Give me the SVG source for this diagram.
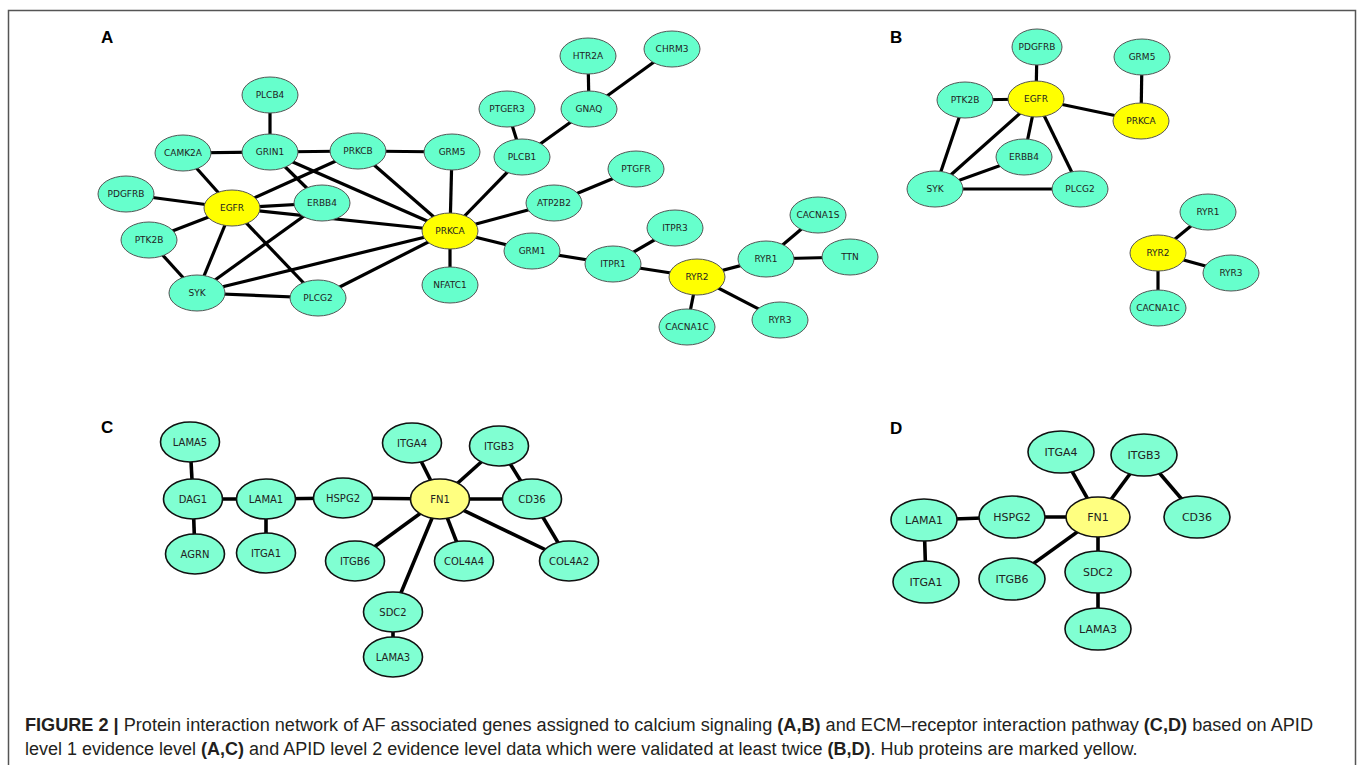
<svg xmlns="http://www.w3.org/2000/svg" width="1360" height="765" viewBox="0 0 1360 765">
<style>
.e{stroke:#000;stroke-width:3.2;stroke-linecap:butt;fill:none}
.ecd{stroke:#000;stroke-width:3.6;fill:none}
.na ellipse{fill:#66ffcc;stroke:#555;stroke-width:1}
.na.h ellipse{fill:#ffff00}
.nc ellipse{fill:#80ffd2;stroke:#111;stroke-width:1.6}
.nc.h ellipse{fill:#ffff80}
text.l{font-family:"DejaVu Sans",sans-serif;fill:#222;text-anchor:middle;dominant-baseline:central}
.na text{font-size:9px}
.nc text{font-size:10px}
.nd text{font-size:11px}
.pl{font-family:"Liberation Sans",Arial,sans-serif;font-weight:bold;font-size:17px;fill:#000}
.cap{font-family:"Liberation Sans",Arial,sans-serif;font-size:18px;fill:#231f20}
</style>
<rect width="1360" height="765" fill="#fff"/>
<path d="M8.5,775 V10.5 H1355.5 V775" fill="none" stroke="#555" stroke-width="1.5"/>
<text class="pl" x="101" y="43">A</text>
<text class="pl" x="890" y="43">B</text>
<text class="pl" x="101" y="433">C</text>
<text class="pl" x="890" y="434">D</text>

<g id="edges">
<!-- A -->
<line class="e" x1="270" y1="95" x2="270" y2="152"/>
<line class="e" x1="183" y1="153" x2="270" y2="152"/>
<line class="e" x1="270" y1="152" x2="358" y2="151"/>
<line class="e" x1="358" y1="151" x2="452" y2="152"/>
<line class="e" x1="183" y1="153" x2="232" y2="208"/>
<line class="e" x1="126" y1="194" x2="232" y2="208"/>
<line class="e" x1="270" y1="152" x2="322" y2="203"/>
<line class="e" x1="270" y1="152" x2="450" y2="231"/>
<line class="e" x1="358" y1="151" x2="232" y2="208"/>
<line class="e" x1="358" y1="151" x2="450" y2="231"/>
<line class="e" x1="452" y1="152" x2="450" y2="231"/>
<line class="e" x1="232" y1="208" x2="322" y2="203"/>
<line class="e" x1="232" y1="208" x2="450" y2="231"/>
<line class="e" x1="149" y1="240" x2="232" y2="208"/>
<line class="e" x1="149" y1="240" x2="197" y2="293"/>
<line class="e" x1="232" y1="208" x2="197" y2="293"/>
<line class="e" x1="232" y1="208" x2="318" y2="298"/>
<line class="e" x1="197" y1="293" x2="322" y2="203"/>
<line class="e" x1="197" y1="293" x2="450" y2="231"/>
<line class="e" x1="197" y1="293" x2="318" y2="298"/>
<line class="e" x1="318" y1="298" x2="450" y2="231"/>
<line class="e" x1="450" y1="231" x2="450" y2="285"/>
<line class="e" x1="450" y1="231" x2="522" y2="157"/>
<line class="e" x1="450" y1="231" x2="554" y2="203"/>
<line class="e" x1="450" y1="231" x2="532" y2="251"/>
<line class="e" x1="522" y1="157" x2="507" y2="109"/>
<line class="e" x1="522" y1="157" x2="589" y2="109"/>
<line class="e" x1="589" y1="109" x2="588" y2="56"/>
<line class="e" x1="589" y1="109" x2="672" y2="49"/>
<line class="e" x1="554" y1="203" x2="636" y2="169"/>
<line class="e" x1="532" y1="251" x2="613" y2="264"/>
<line class="e" x1="613" y1="264" x2="675" y2="228"/>
<line class="e" x1="613" y1="264" x2="697" y2="277"/>
<line class="e" x1="697" y1="277" x2="766" y2="259"/>
<line class="e" x1="766" y1="259" x2="818" y2="215"/>
<line class="e" x1="766" y1="259" x2="850" y2="257"/>
<line class="e" x1="697" y1="277" x2="687" y2="327"/>
<line class="e" x1="697" y1="277" x2="780" y2="320"/>
<!-- B -->
<line class="e" x1="1037" y1="47" x2="1036" y2="99"/>
<line class="e" x1="965" y1="100" x2="1036" y2="99"/>
<line class="e" x1="1036" y1="99" x2="1141" y2="121"/>
<line class="e" x1="1142" y1="57" x2="1141" y2="121"/>
<line class="e" x1="965" y1="100" x2="935" y2="189"/>
<line class="e" x1="1036" y1="99" x2="935" y2="189"/>
<line class="e" x1="1036" y1="99" x2="1024" y2="157"/>
<line class="e" x1="1036" y1="99" x2="1080" y2="189"/>
<line class="e" x1="1024" y1="157" x2="935" y2="189"/>
<line class="e" x1="935" y1="189" x2="1080" y2="189"/>
<line class="e" x1="1158" y1="253" x2="1208" y2="212"/>
<line class="e" x1="1158" y1="253" x2="1231" y2="273"/>
<line class="e" x1="1158" y1="253" x2="1158" y2="308"/>
<!-- C -->
<line class="ecd" x1="190" y1="442" x2="193" y2="499"/>
<line class="ecd" x1="193" y1="499" x2="195" y2="554"/>
<line class="ecd" x1="193" y1="499" x2="266" y2="499"/>
<line class="ecd" x1="266" y1="499" x2="266" y2="553"/>
<line class="ecd" x1="266" y1="499" x2="343" y2="498"/>
<line class="ecd" x1="343" y1="498" x2="440" y2="499"/>
<line class="ecd" x1="440" y1="499" x2="412" y2="443"/>
<line class="ecd" x1="440" y1="499" x2="499" y2="446"/>
<line class="ecd" x1="499" y1="446" x2="532" y2="499"/>
<line class="ecd" x1="440" y1="499" x2="532" y2="499"/>
<line class="ecd" x1="440" y1="499" x2="355" y2="561"/>
<line class="ecd" x1="440" y1="499" x2="393" y2="612"/>
<line class="ecd" x1="440" y1="499" x2="464" y2="561"/>
<line class="ecd" x1="440" y1="499" x2="569" y2="561"/>
<line class="ecd" x1="532" y1="499" x2="569" y2="561"/>
<line class="ecd" x1="393" y1="612" x2="393" y2="657"/>
<!-- D -->
<line class="ecd" x1="924" y1="520" x2="1012" y2="517"/>
<line class="ecd" x1="924" y1="520" x2="926" y2="582"/>
<line class="ecd" x1="1012" y1="517" x2="1098" y2="517"/>
<line class="ecd" x1="1098" y1="517" x2="1061" y2="452"/>
<line class="ecd" x1="1098" y1="517" x2="1144" y2="455"/>
<line class="ecd" x1="1144" y1="455" x2="1197" y2="517"/>
<line class="ecd" x1="1098" y1="517" x2="1012" y2="579"/>
<line class="ecd" x1="1098" y1="517" x2="1098" y2="572"/>
<line class="ecd" x1="1098" y1="572" x2="1098" y2="629"/>
</g>

<!-- Panel A nodes -->
<g id="A_PLCB4" class="na"><ellipse cx="270" cy="95" rx="28" ry="18"/><text class="l" x="270" y="95">PLCB4</text></g>
<g id="A_CAMK2A" class="na"><ellipse cx="183" cy="153" rx="28" ry="18"/><text class="l" x="183" y="153">CAMK2A</text></g>
<g id="A_GRIN1" class="na"><ellipse cx="270" cy="152" rx="28" ry="18"/><text class="l" x="270" y="152">GRIN1</text></g>
<g id="A_PRKCB" class="na"><ellipse cx="358" cy="151" rx="28" ry="18"/><text class="l" x="358" y="151">PRKCB</text></g>
<g id="A_GRM5" class="na"><ellipse cx="452" cy="152" rx="28" ry="18"/><text class="l" x="452" y="152">GRM5</text></g>
<g id="A_PDGFRB" class="na"><ellipse cx="126" cy="194" rx="28" ry="18"/><text class="l" x="126" y="194">PDGFRB</text></g>
<g id="A_EGFR" class="na h"><ellipse cx="232" cy="208" rx="28" ry="18"/><text class="l" x="232" y="208">EGFR</text></g>
<g id="A_ERBB4" class="na"><ellipse cx="322" cy="203" rx="28" ry="18"/><text class="l" x="322" y="203">ERBB4</text></g>
<g id="A_PRKCA" class="na h"><ellipse cx="450" cy="231" rx="28" ry="18"/><text class="l" x="450" y="231">PRKCA</text></g>
<g id="A_PTK2B" class="na"><ellipse cx="149" cy="240" rx="28" ry="18"/><text class="l" x="149" y="240">PTK2B</text></g>
<g id="A_SYK" class="na"><ellipse cx="197" cy="293" rx="28" ry="18"/><text class="l" x="197" y="293">SYK</text></g>
<g id="A_PLCG2" class="na"><ellipse cx="318" cy="298" rx="28" ry="18"/><text class="l" x="318" y="298">PLCG2</text></g>
<g id="A_NFATC1" class="na"><ellipse cx="450" cy="285" rx="28" ry="18"/><text class="l" x="450" y="285">NFATC1</text></g>
<g id="A_HTR2A" class="na"><ellipse cx="588" cy="56" rx="28" ry="18"/><text class="l" x="588" y="56">HTR2A</text></g>
<g id="A_CHRM3" class="na"><ellipse cx="672" cy="49" rx="28" ry="18"/><text class="l" x="672" y="49">CHRM3</text></g>
<g id="A_PTGER3" class="na"><ellipse cx="507" cy="109" rx="28" ry="18"/><text class="l" x="507" y="109">PTGER3</text></g>
<g id="A_GNAQ" class="na"><ellipse cx="589" cy="109" rx="28" ry="18"/><text class="l" x="589" y="109">GNAQ</text></g>
<g id="A_PLCB1" class="na"><ellipse cx="522" cy="157" rx="28" ry="18"/><text class="l" x="522" y="157">PLCB1</text></g>
<g id="A_PTGFR" class="na"><ellipse cx="636" cy="169" rx="28" ry="18"/><text class="l" x="636" y="169">PTGFR</text></g>
<g id="A_ATP2B2" class="na"><ellipse cx="554" cy="203" rx="28" ry="18"/><text class="l" x="554" y="203">ATP2B2</text></g>
<g id="A_ITPR3" class="na"><ellipse cx="675" cy="228" rx="28" ry="18"/><text class="l" x="675" y="228">ITPR3</text></g>
<g id="A_CACNA1S" class="na"><ellipse cx="818" cy="215" rx="28" ry="18"/><text class="l" x="818" y="215">CACNA1S</text></g>
<g id="A_GRM1" class="na"><ellipse cx="532" cy="251" rx="28" ry="18"/><text class="l" x="532" y="251">GRM1</text></g>
<g id="A_ITPR1" class="na"><ellipse cx="613" cy="264" rx="28" ry="18"/><text class="l" x="613" y="264">ITPR1</text></g>
<g id="A_RYR2" class="na h"><ellipse cx="697" cy="277" rx="28" ry="18"/><text class="l" x="697" y="277">RYR2</text></g>
<g id="A_RYR1" class="na"><ellipse cx="766" cy="259" rx="28" ry="18"/><text class="l" x="766" y="259">RYR1</text></g>
<g id="A_TTN" class="na"><ellipse cx="850" cy="257" rx="28" ry="18"/><text class="l" x="850" y="257">TTN</text></g>
<g id="A_CACNA1C" class="na"><ellipse cx="687" cy="327" rx="28" ry="18"/><text class="l" x="687" y="327">CACNA1C</text></g>
<g id="A_RYR3" class="na"><ellipse cx="780" cy="320" rx="28" ry="18"/><text class="l" x="780" y="320">RYR3</text></g>

<!-- Panel B nodes -->
<g id="B_PDGFRB" class="na"><ellipse cx="1037" cy="47" rx="25" ry="18"/><text class="l" x="1037" y="47">PDGFRB</text></g>
<g id="B_GRM5" class="na"><ellipse cx="1142" cy="57" rx="28" ry="18"/><text class="l" x="1142" y="57">GRM5</text></g>
<g id="B_PTK2B" class="na"><ellipse cx="965" cy="100" rx="28" ry="18"/><text class="l" x="965" y="100">PTK2B</text></g>
<g id="B_EGFR" class="na h"><ellipse cx="1036" cy="99" rx="28" ry="18"/><text class="l" x="1036" y="99">EGFR</text></g>
<g id="B_PRKCA" class="na h"><ellipse cx="1141" cy="121" rx="28" ry="18"/><text class="l" x="1141" y="121">PRKCA</text></g>
<g id="B_ERBB4" class="na"><ellipse cx="1024" cy="157" rx="28" ry="18"/><text class="l" x="1024" y="157">ERBB4</text></g>
<g id="B_SYK" class="na"><ellipse cx="935" cy="189" rx="28" ry="18"/><text class="l" x="935" y="189">SYK</text></g>
<g id="B_PLCG2" class="na"><ellipse cx="1080" cy="189" rx="28" ry="18"/><text class="l" x="1080" y="189">PLCG2</text></g>
<g id="B_RYR1" class="na"><ellipse cx="1208" cy="212" rx="28" ry="18"/><text class="l" x="1208" y="212">RYR1</text></g>
<g id="B_RYR2" class="na h"><ellipse cx="1158" cy="253" rx="28" ry="18"/><text class="l" x="1158" y="253">RYR2</text></g>
<g id="B_RYR3" class="na"><ellipse cx="1231" cy="273" rx="28" ry="18"/><text class="l" x="1231" y="273">RYR3</text></g>
<g id="B_CACNA1C" class="na"><ellipse cx="1158" cy="308" rx="28" ry="18"/><text class="l" x="1158" y="308">CACNA1C</text></g>

<!-- Panel C nodes -->
<g id="C_LAMA5" class="nc"><ellipse cx="190" cy="442" rx="29.5" ry="20"/><text class="l" x="190" y="442">LAMA5</text></g>
<g id="C_ITGA4" class="nc"><ellipse cx="412" cy="443" rx="29.5" ry="20"/><text class="l" x="412" y="443">ITGA4</text></g>
<g id="C_ITGB3" class="nc"><ellipse cx="499" cy="446" rx="29.5" ry="20"/><text class="l" x="499" y="446">ITGB3</text></g>
<g id="C_DAG1" class="nc"><ellipse cx="193" cy="499" rx="29.5" ry="20"/><text class="l" x="193" y="499">DAG1</text></g>
<g id="C_LAMA1" class="nc"><ellipse cx="266" cy="499" rx="29.5" ry="20"/><text class="l" x="266" y="499">LAMA1</text></g>
<g id="C_HSPG2" class="nc"><ellipse cx="343" cy="498" rx="29.5" ry="20"/><text class="l" x="343" y="498">HSPG2</text></g>
<g id="C_FN1" class="nc h"><ellipse cx="440" cy="499" rx="29.5" ry="20"/><text class="l" x="440" y="499">FN1</text></g>
<g id="C_CD36" class="nc"><ellipse cx="532" cy="499" rx="29.5" ry="20"/><text class="l" x="532" y="499">CD36</text></g>
<g id="C_AGRN" class="nc"><ellipse cx="195" cy="554" rx="29.5" ry="20"/><text class="l" x="195" y="554">AGRN</text></g>
<g id="C_ITGA1" class="nc"><ellipse cx="266" cy="553" rx="29.5" ry="20"/><text class="l" x="266" y="553">ITGA1</text></g>
<g id="C_ITGB6" class="nc"><ellipse cx="355" cy="561" rx="29.5" ry="20"/><text class="l" x="355" y="561">ITGB6</text></g>
<g id="C_COL4A4" class="nc"><ellipse cx="464" cy="561" rx="29.5" ry="20"/><text class="l" x="464" y="561">COL4A4</text></g>
<g id="C_COL4A2" class="nc"><ellipse cx="569" cy="561" rx="29.5" ry="20"/><text class="l" x="569" y="561">COL4A2</text></g>
<g id="C_SDC2" class="nc"><ellipse cx="393" cy="612" rx="29.5" ry="20"/><text class="l" x="393" y="612">SDC2</text></g>
<g id="C_LAMA3" class="nc"><ellipse cx="393" cy="657" rx="29.5" ry="20"/><text class="l" x="393" y="657">LAMA3</text></g>

<!-- Panel D nodes -->
<g id="D_ITGA4" class="nc nd"><ellipse cx="1061" cy="452" rx="33" ry="21"/><text class="l" x="1061" y="452">ITGA4</text></g>
<g id="D_ITGB3" class="nc nd"><ellipse cx="1144" cy="455" rx="33" ry="21"/><text class="l" x="1144" y="455">ITGB3</text></g>
<g id="D_LAMA1" class="nc nd"><ellipse cx="924" cy="520" rx="33" ry="21"/><text class="l" x="924" y="520">LAMA1</text></g>
<g id="D_HSPG2" class="nc nd"><ellipse cx="1012" cy="517" rx="33" ry="21"/><text class="l" x="1012" y="517">HSPG2</text></g>
<g id="D_FN1" class="nc nd h"><ellipse cx="1098" cy="517" rx="32" ry="20"/><text class="l" x="1098" y="517">FN1</text></g>
<g id="D_CD36" class="nc nd"><ellipse cx="1197" cy="517" rx="33" ry="21"/><text class="l" x="1197" y="517">CD36</text></g>
<g id="D_ITGA1" class="nc nd"><ellipse cx="926" cy="582" rx="33" ry="21"/><text class="l" x="926" y="582">ITGA1</text></g>
<g id="D_ITGB6" class="nc nd"><ellipse cx="1012" cy="579" rx="33" ry="21"/><text class="l" x="1012" y="579">ITGB6</text></g>
<g id="D_SDC2" class="nc nd"><ellipse cx="1098" cy="572" rx="33" ry="21"/><text class="l" x="1098" y="572">SDC2</text></g>
<g id="D_LAMA3" class="nc nd"><ellipse cx="1098" cy="629" rx="33" ry="21"/><text class="l" x="1098" y="629">LAMA3</text></g>

<text class="cap" x="25" y="731" textLength="1288" lengthAdjust="spacingAndGlyphs"><tspan font-weight="bold">FIGURE 2 |</tspan> Protein interaction network of AF associated genes assigned to calcium signaling <tspan font-weight="bold">(A,B)</tspan> and ECM–receptor interaction pathway <tspan font-weight="bold">(C,D)</tspan> based on APID</text>
<text class="cap" x="25" y="755" font-size="17.5">level 1 evidence level <tspan font-weight="bold">(A,C)</tspan> and APID level 2 evidence level data which were validated at least twice <tspan font-weight="bold">(B,D)</tspan>. Hub proteins are marked yellow.</text>
</svg>
